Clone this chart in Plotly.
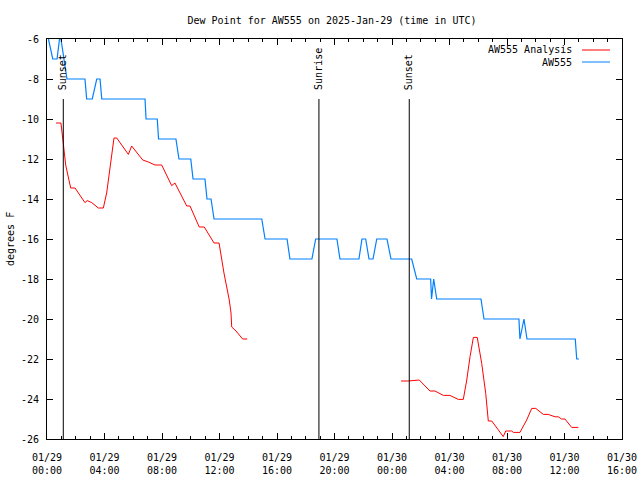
import pandas as pd
import plotly.graph_objects as go

# ---------------- data ----------------
start = pd.Timestamp("2025-01-29 00:00")

# AW555 observations: hours after 2025-01-29 00:00 UTC, dew point (F)
obs_hours = [0.10, 0.40, 0.70, 0.87, 0.97, 1.39, 2.64, 2.76, 3.15, 3.46, 3.69, 3.81,
             6.82, 6.89, 7.67, 7.76, 8.97, 9.18, 10.00, 10.16, 10.99, 11.13, 11.41, 11.62,
             14.94, 15.17, 16.70, 16.90, 18.43, 18.69, 20.17, 20.38, 21.70, 21.91, 22.17,
             22.40, 22.68, 22.94, 23.65, 23.93, 25.37, 25.72, 26.69, 26.75, 26.90, 27.11,
             30.19, 30.40, 32.83, 32.90, 33.18, 33.39, 36.75, 36.85, 37.01]
obs_dewpt = [-6, -7, -7, -6, -6, -8, -8, -9, -9, -8, -8, -9,
             -9, -10, -10, -11, -11, -12, -12, -13, -13, -14, -14, -15,
             -15, -16, -16, -17, -17, -16, -16, -17, -17, -16, -16,
             -17, -17, -16, -16, -17, -17, -18, -18, -19, -18, -19,
             -19, -20, -20, -21, -20, -21, -21, -22, -22]

# AW555 Analysis, first segment
ana1_hours = [0.63, 0.97, 1.13, 1.30, 1.48, 1.65, 1.95, 2.30, 2.64, 2.80, 3.11, 3.57,
              3.92, 4.15, 4.43, 4.66, 4.85, 5.03, 5.66, 5.89, 6.66, 7.05, 7.51, 7.98,
              8.67, 8.90, 9.72, 9.95, 10.59, 10.94, 11.62, 11.97, 12.31, 12.68, 12.80,
              12.85, 13.15, 13.61, 13.93]
ana1_dewpt = [-10.2, -10.2, -11.2, -12.3, -12.9, -13.45, -13.45, -13.8, -14.18, -14.08,
              -14.18, -14.45, -14.45, -13.7, -12.05, -10.95, -10.95, -11.13, -11.77, -11.35,
              -12.05, -12.15, -12.3, -12.3, -13.33, -13.2, -14.35, -14.35, -15.4, -15.4,
              -16.2, -16.2, -17.7, -19.05, -19.7, -20.4, -20.6, -21.0, -21.0]

# AW555 Analysis, second segment
ana2_hours = [24.63, 25.13, 25.90, 26.64, 26.99, 27.57, 28.03, 28.61, 28.96, 29.20, 29.43,
              29.66, 29.93, 30.24, 30.52, 30.70, 30.94, 31.28, 31.74, 31.91, 32.33, 32.44,
              32.90, 33.37, 33.72, 34.00, 34.53, 34.87, 35.34, 35.57, 35.80, 36.03, 36.50,
              36.96]
ana2_dewpt = [-23.1, -23.1, -23.05, -23.6, -23.6, -23.82, -23.82, -24.02, -24.02, -23.05,
              -21.88, -20.92, -20.92, -22.22, -23.72, -25.1, -25.1, -25.42, -25.88, -25.6,
              -25.6, -25.67, -25.67, -25.05, -24.47, -24.47, -24.77, -24.77, -24.89, -24.89,
              -25.0, -25.0, -25.42, -25.42]

sun_labels = ["Sunset", "Sunrise", "Sunset"]
sun_times = ["2025-01-29 01:08", "2025-01-29 18:55", "2025-01-30 01:12"]

x_tickvals = ["2025-01-29 00:00", "2025-01-29 04:00", "2025-01-29 08:00", "2025-01-29 12:00",
              "2025-01-29 16:00", "2025-01-29 20:00", "2025-01-30 00:00", "2025-01-30 04:00",
              "2025-01-30 08:00", "2025-01-30 12:00", "2025-01-30 16:00"]
x_ticktext = ["01/29<br>00:00", "01/29<br>04:00", "01/29<br>08:00", "01/29<br>12:00",
              "01/29<br>16:00", "01/29<br>20:00", "01/30<br>00:00", "01/30<br>04:00",
              "01/30<br>08:00", "01/30<br>12:00", "01/30<br>16:00"]
y_tickvals = [-26, -24, -22, -20, -18, -16, -14, -12, -10, -8, -6]
y_ticktext = ["-26", "-24", "-22", "-20", "-18", "-16", "-14", "-12", "-10", "-8", "-6"]

series_names = ["AW555 Analysis", "AW555"]
series_colors = ["#ff0000", "#0080ff"]


def to_time(hours):
    return [start + pd.Timedelta(hours=h) for h in hours]


FONT = "DejaVu Sans Mono"
fig = go.Figure()

# Analysis as two segments (gap in the middle)
ana_x = to_time(ana1_hours) + [None] + to_time(ana2_hours)
ana_y = ana1_dewpt + [None] + ana2_dewpt
fig.add_trace(go.Scatter(x=ana_x, y=ana_y, mode="lines", name=series_names[0],
                         line=dict(color=series_colors[0], width=1), connectgaps=False))
fig.add_trace(go.Scatter(x=to_time(obs_hours), y=obs_dewpt, mode="lines", name=series_names[1],
                         line=dict(color=series_colors[1], width=1.2)))

# sunrise / sunset markers
for lab, t in zip(sun_labels, sun_times):
    fig.add_shape(type="line", xref="x", yref="paper", x0=t, x1=t, y0=0, y1=0.85,
                  line=dict(color="black", width=1))
    fig.add_annotation(x=t, xref="x", y=0.8675, yref="paper", text=lab, textangle=-90,
                       showarrow=False, xanchor="center", yanchor="bottom",
                       font=dict(family=FONT, size=10, color="black"))

# legend drawn gnuplot-style (text then line sample)
leg_rows = [1 - (50 - 39) / 400, 1 - (62 - 39) / 400]
x_text_end = (574 - 47) / 575
x_s0, x_s1 = (582 - 47) / 575, (610 - 47) / 575
for name, col, yy in zip(series_names, series_colors, leg_rows):
    fig.add_annotation(x=x_text_end, xref="paper", y=yy, yref="paper", text=name,
                       showarrow=False, xanchor="right", yanchor="middle",
                       font=dict(family=FONT, size=10, color="black"))
    fig.add_shape(type="line", xref="paper", yref="paper", x0=x_s0, x1=x_s1, y0=yy, y1=yy,
                  line=dict(color=col, width=1))

# y axis title
fig.add_annotation(x=(10 - 47) / 575, xref="paper", y=0.5, yref="paper", text="degrees F",
                   textangle=-90, showarrow=False, xanchor="center", yanchor="middle",
                   font=dict(family=FONT, size=10, color="black"))

fig.update_layout(
    width=640, height=480,
    margin=dict(l=47, r=18, t=39, b=41, autoexpand=False),
    paper_bgcolor="white", plot_bgcolor="white",
    showlegend=False,
    font=dict(family=FONT, size=10, color="black"),
    title=dict(text="Dew Point for AW555 on 2025-Jan-29 (time in UTC)",
               x=332 / 640, xref="container", xanchor="center",
               y=1 - 20 / 480, yref="container", yanchor="middle",
               font=dict(family=FONT, size=10, color="black")),
)

fig.update_xaxes(
    type="date", automargin=False,
    range=["2025-01-29 00:00", "2025-01-30 16:00"],
    tickvals=x_tickvals, ticktext=x_ticktext,
    ticks="inside", ticklen=6, tickcolor="black", tickwidth=1,
    minor=dict(dtick=3600000, ticks="inside", ticklen=3, tickcolor="black", tickwidth=1),
    showline=True, linecolor="black", linewidth=1, mirror="allticks",
    showgrid=False, zeroline=False,
    tickfont=dict(family=FONT, size=10, color="black"),
    ticklabelstandoff=9,
)
fig.update_yaxes(
    automargin=False,
    range=[-26, -6],
    tickvals=y_tickvals, ticktext=y_ticktext,
    ticks="inside", ticklen=6, tickcolor="black", tickwidth=1,
    showline=True, linecolor="black", linewidth=1, mirror="allticks",
    showgrid=False, zeroline=False,
    tickfont=dict(family=FONT, size=10, color="black"),
    ticklabelstandoff=5,
)

fig.write_html("out.html")
